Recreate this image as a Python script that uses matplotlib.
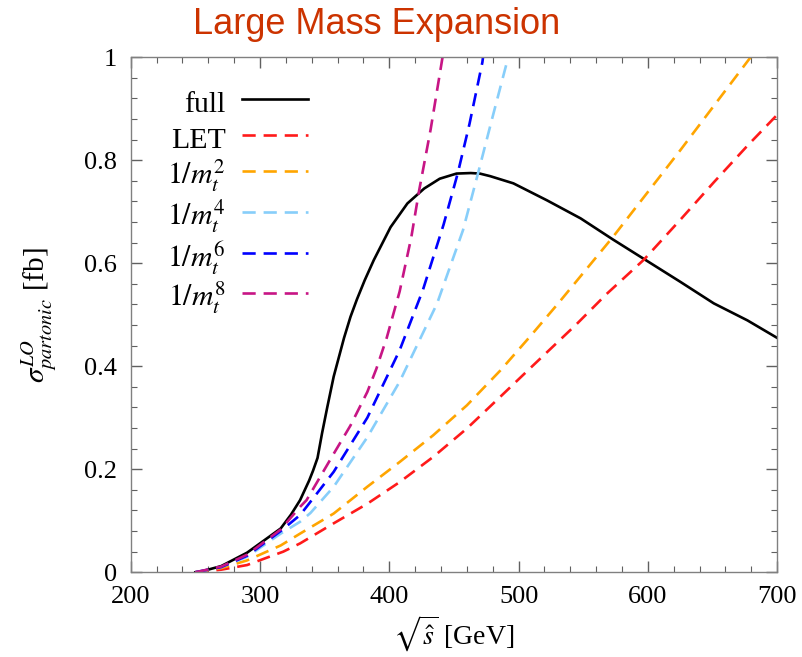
import matplotlib

matplotlib.use("Agg")
import matplotlib.pyplot as plt
from matplotlib.ticker import MultipleLocator, FuncFormatter

plt.rcParams["font.family"] = ["Liberation Serif", "DejaVu Serif"]
plt.rcParams["mathtext.fontset"] = "stix"

# sqrt(s) [GeV] and sigma [fb]
full_x = [250, 254, 270, 290, 316, 324, 331, 338, 341, 344.5, 348, 352, 357, 365,
          370, 375, 381, 388, 401, 414, 427, 439, 452, 463, 470, 478, 496, 522,
          548, 573, 599, 625, 651, 677, 700]
full_y = [0.0, 0.001, 0.012, 0.038, 0.085, 0.112, 0.140, 0.178, 0.197, 0.222,
          0.270, 0.320, 0.380, 0.455, 0.496, 0.530, 0.567, 0.606, 0.670, 0.716,
          0.745, 0.764, 0.774, 0.775, 0.774, 0.769, 0.755, 0.722, 0.687, 0.646,
          0.605, 0.564, 0.522, 0.489, 0.455]

let_x = [250, 270, 290, 305, 318, 331, 357, 383, 408, 434, 460, 486, 511, 545,
         568, 597, 625, 651, 677, 700]
let_y = [0.0, 0.005, 0.014, 0.028, 0.040, 0.056, 0.095, 0.133, 0.175, 0.224,
         0.279, 0.341, 0.401, 0.482, 0.540, 0.607, 0.684, 0.757, 0.828, 0.888]

m2_x = [250, 270, 290, 316, 331, 357, 383, 408, 434, 460, 486, 509, 530, 573,
        625, 678, 684]
m2_y = [0.0, 0.008, 0.023, 0.052, 0.075, 0.114, 0.166, 0.214, 0.266, 0.324,
        0.392, 0.458, 0.520, 0.651, 0.819, 0.995, 1.015]

m4_x = [250, 270, 290, 316, 331, 339, 357, 383, 408, 437, 457, 469, 480, 492, 494]
m4_y = [0.0, 0.010, 0.030, 0.075, 0.098, 0.115, 0.166, 0.262, 0.370, 0.522, 0.664,
        0.778, 0.885, 1.0, 1.02]

m6_x = [250, 270, 290, 316, 331, 336, 357, 383, 408, 426, 442, 453, 462, 472, 473]
m6_y = [0.0, 0.010, 0.032, 0.080, 0.111, 0.127, 0.195, 0.300, 0.431, 0.548, 0.675,
        0.775, 0.870, 0.990, 1.01]

m8_x = [250, 270, 290, 316, 331, 336, 357, 370, 383, 390, 398, 408, 417, 423, 432,
        441, 443]
m8_y = [0.0, 0.011, 0.034, 0.083, 0.127, 0.140, 0.230, 0.285, 0.350, 0.395, 0.455,
        0.545, 0.650, 0.740, 0.860, 0.997, 1.02]

series = [
    ("full", full_x, full_y, "black", "-"),
    ("LET", let_x, let_y, "#ff1a1a", "--"),
    (r"$1/m_t^2$", m2_x, m2_y, "#ffa500", "--"),
    (r"$1/m_t^4$", m4_x, m4_y, "#87cefa", "--"),
    (r"$1/m_t^6$", m6_x, m6_y, "#0000ff", "--"),
    (r"$1/m_t^8$", m8_x, m8_y, "#c71585", "--"),
]

fig = plt.figure(figsize=(8.02, 6.57), dpi=100)
ax = fig.add_axes([0.163, 0.129, 0.806, 0.784])

for label, xs, ys, color, ls in series:
    if ls == "-":
        ax.plot(xs, ys, color=color, lw=1.9, label=label)
    else:
        ax.plot(xs, ys, color=color, lw=1.9, ls=ls, dashes=(5, 3), label=label)

ax.set_xlim(200, 700)
ax.set_ylim(0, 1)
ax.xaxis.set_major_locator(MultipleLocator(100))
ax.xaxis.set_minor_locator(MultipleLocator(20))
ax.yaxis.set_major_locator(MultipleLocator(0.2))
ax.yaxis.set_minor_locator(MultipleLocator(0.04))
ax.yaxis.set_major_formatter(FuncFormatter(lambda v, p: f"{v:g}"))

for s in ax.spines.values():
    s.set_color("#808080")
    s.set_linewidth(1.0)
ax.tick_params(which="both", direction="in", top=True, right=True, colors="#606060",
               labelcolor="black", labelsize=19)
ax.tick_params(which="major", length=8, width=1.0, pad=10)
ax.tick_params(which="minor", length=4, width=0.8)

ax.set_xlabel(r"$\sqrt{\hat{s}}$ [GeV]", fontsize=20, labelpad=4)
ax.set_ylabel(r"$\sigma^{LO}_{partonic}$ [fb]", fontsize=21, labelpad=18)

# tall handle boxes keep the row pitch equal for plain and math labels
ax.legend(loc="upper left", bbox_to_anchor=(0.056, 0.945), frameon=False,
          markerfirst=False, fontsize=21.5, handlelength=2.2, handletextpad=0.55,
          handleheight=1.3, labelspacing=0.12, borderaxespad=0, borderpad=0)

fig.text(0.47, 0.962, "Large Mass Expansion", ha="center", va="center",
         fontsize=26, color="#cc3300", family="Liberation Sans")

fig.savefig("out.png", dpi=100)
